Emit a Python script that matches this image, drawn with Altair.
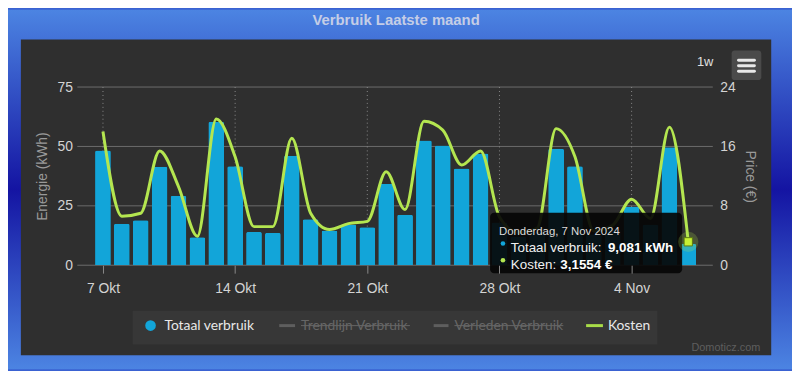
import json
import altair as alt
import pandas as pd

# ---------------- data ----------------
dates = [
    "2024-10-07", "2024-10-08", "2024-10-09", "2024-10-10", "2024-10-11", "2024-10-12",
    "2024-10-13", "2024-10-14", "2024-10-15", "2024-10-16", "2024-10-17", "2024-10-18",
    "2024-10-19", "2024-10-20", "2024-10-21", "2024-10-22", "2024-10-23", "2024-10-24",
    "2024-10-25", "2024-10-26", "2024-10-27", "2024-10-28", "2024-10-29", "2024-10-30",
    "2024-10-31", "2024-11-01", "2024-11-02", "2024-11-03", "2024-11-04", "2024-11-05",
    "2024-11-06", "2024-11-07",
]
verbruik = [
    48.3, 17.5, 18.9, 41.4, 29.2, 11.8, 60.4, 41.7, 14.0, 13.6, 46.1, 19.4,
    14.6, 17.1, 16.0, 34.2, 21.2, 52.5, 50.4, 40.7, 47.0, 18.0, 12.0, 14.0,
    49.0, 41.7, 13.0, 15.0, 24.6, 17.0, 49.7, 9.081,
]
kosten = [
    18.0, 6.6, 7.0, 15.4, 10.6, 3.9, 19.7, 14.6, 5.2, 5.2, 17.1, 7.0,
    4.8, 5.6, 5.9, 12.6, 7.5, 19.4, 18.2, 13.5, 15.4, 6.5, 4.4, 5.0,
    18.4, 14.6, 4.6, 5.4, 8.9, 6.3, 18.6, 3.1554,
]
tick_days = [0, 7, 14, 21, 28]
tick_labels = ["7 Okt", "14 Okt", "21 Okt", "28 Okt", "4 Nov"]
kwh_ticks = [0, 25, 50, 75]
price_ticks = [0, 8, 16, 24]
legend_labels = ["Totaal verbruik", "Trendlijn Verbruik", "Verleden Verbruik", "Kosten"]
title_text = "Verbruik Laatste maand"
tooltip_date = "Donderdag, 7 Nov 2024"
range_label = "1w"
credit = "Domoticz.com"

d = pd.to_datetime(dates)
df = pd.DataFrame({"day": (d - d[0]).days, "kwh": verbruik, "eur": kosten})
last = df.iloc[[-1]]

W, H = 642, 180
x_dom = [-1.36, float(df["day"].max()) + 1.3]

FONT = "Liberation Sans"
BAR = "#12a5d9"
LINE = "#b4e650"

label_expr = "%s[indexof(%s, datum.value)]" % (json.dumps(tick_labels), json.dumps(tick_days))
x_axis = alt.Axis(values=tick_days, labelExpr=label_expr, title=None, grid=False, domain=False,
                  ticks=True, tickSize=8, tickColor="#8a8a8a", tickWidth=1, labelPadding=9,
                  labelColor="#d4d4d4", labelFontSize=14, labelFont=FONT, zindex=1,
                  labelFlush=False)


def X():
    return alt.X("day:Q", scale=alt.Scale(domain=x_dom, nice=False, zero=False, padding=0),
                 axis=x_axis)


def yscale(top):
    return alt.Scale(domain=[0, top], nice=False, zero=True, padding=0)


one = pd.DataFrame({"k": [0]})


def rect(x, x2, y, y2, **kw):
    return alt.Chart(one).mark_rect(**kw).encode(
        x=alt.value(x), x2=alt.value(x2), y=alt.value(y), y2=alt.value(y2))


def txt(s, x, y, **kw):
    kw.setdefault("font", FONT)
    return alt.Chart(one).mark_text(text=s, **kw).encode(x=alt.value(x), y=alt.value(y))


def hline(x, x2, y, **kw):
    return alt.Chart(one).mark_rule(**kw).encode(
        x=alt.value(x), x2=alt.value(x2), y=alt.value(y))


# ------------- background & frame -------------
bg = rect(-70, 722, -78, 285, fill={
    "gradient": "linear", "x1": 0, "x2": 0, "y1": 0, "y2": 1,
    "stops": [{"offset": 0, "color": "#4c84e2"},
              {"offset": 0.5, "color": "#1414a2"},
              {"offset": 1, "color": "#4c84e2"}]})
panel = rect(-57, 701, -48, 271, fill="#2f2f2f")
title = txt(title_text, 322, -68, fontSize=15, fontWeight="bold", color="#c4cde6",
            align="center", baseline="middle")
rng = txt(range_label, 626, -25, fontSize=13, color="#e0e0e0", align="left", baseline="middle")
menu = rect(661, 691, -37, -7, fill="#4a4a4a", cornerRadius=3)
menu_lines = [hline(668, 684, yy, color="#e8e8e8", strokeWidth=3, strokeCap="round")
              for yy in (-27, -21.5, -16)]
cred = txt(credit, 690, 264, fontSize=11, color="#5e5e5e", align="right", baseline="middle")

# ------------- grid -------------
hgrid = alt.Chart(pd.DataFrame({"v": kwh_ticks})).mark_rule(color="#6c6c6c", strokeWidth=1).encode(
    y=alt.Y("v:Q", scale=yscale(75), axis=None))
vgrid = alt.Chart(pd.DataFrame({"day": tick_days})).mark_rule(
    color="#8a8a8a", strokeWidth=1, strokeDash=[1, 3]).encode(x=X())

# ------------- data marks -------------
bars = alt.Chart(df).mark_bar(size=16, color=BAR, cornerRadiusTopLeft=2,
                              cornerRadiusTopRight=2).encode(
    x=X(),
    y=alt.Y("kwh:Q", scale=yscale(75),
            axis=alt.Axis(orient="left", values=kwh_ticks, grid=False, domain=False, ticks=False,
                          tickSize=0, labelPadding=5, labelColor="#d4d4d4", labelFontSize=14,
                          labelFont=FONT, title="Energie (kWh)", titleColor="#9a9a9a",
                          titleFont=FONT, titleFontSize=14, titleFontWeight="normal",
                          titleX=-35, titleY=90, titleBaseline="middle", zindex=1)))
line = alt.Chart(df).mark_line(interpolate="monotone", color=LINE, strokeWidth=3).encode(
    x=X(),
    y=alt.Y("eur:Q", scale=yscale(24),
            axis=alt.Axis(orient="right", values=price_ticks, grid=False, domain=False,
                          ticks=False, tickSize=0, labelPadding=7, labelColor="#d4d4d4",
                          labelFontSize=14, labelFont=FONT, title="Price (€)",
                          titleColor="#9a9a9a", titleFont=FONT, titleFontSize=14,
                          titleFontWeight="normal", titleX=37, titleY=90,
                          titleBaseline="middle", titleAngle=90, zindex=1)))
eur_y = alt.Y("eur:Q", scale=yscale(24), axis=None)
halo = alt.Chart(last).mark_point(shape="circle", filled=True, size=420, color=LINE,
                                  opacity=0.22).encode(x=X(), y=eur_y)
marker = alt.Chart(last).mark_point(shape="square", filled=True, size=70, color="#c6f034",
                                    stroke="#5c7a10", strokeWidth=1, opacity=1).encode(
    x=X(), y=eur_y)

# ------------- tooltip -------------
kwh_txt = ("%.3f kWh" % last["kwh"].iloc[0]).replace(".", ",")
eur_txt = ("%.4f €" % last["eur"].iloc[0]).replace(".", ",")
tip_box = rect(417, 611, 127, 188, fill="#060606", opacity=0.92, cornerRadius=4)
tip = [
    txt(tooltip_date, 426, 146, fontSize=11.5, color="#dcdcdc", align="left"),
    alt.Chart(one).mark_point(shape="circle", filled=True, size=22, color=BAR, opacity=1).encode(
        x=alt.value(430), y=alt.value(158)),
    txt("Totaal verbruik:", 438, 163, fontSize=13.5, color="#f0f0f0", align="left"),
    txt(kwh_txt, 536, 163, fontSize=13.5, fontWeight="bold", color="#ffffff", align="left"),
    alt.Chart(one).mark_point(shape="circle", filled=True, size=22, color=LINE, opacity=1).encode(
        x=alt.value(430), y=alt.value(175)),
    txt("Kosten:", 438, 180, fontSize=13.5, color="#f0f0f0", align="left"),
    txt(eur_txt, 488, 180, fontSize=13.5, fontWeight="bold", color="#ffffff", align="left"),
]

# ------------- legend -------------
LF = "Lato"
leg_box = rect(56, 586, 226, 260, fill="#373737")
LY = 241
legend = [
    alt.Chart(one).mark_point(shape="circle", filled=True, size=115, color=BAR, opacity=1).encode(
        x=alt.value(74), y=alt.value(LY)),
    txt(legend_labels[0], 88, LY, font=LF, fontSize=14, color="#e8e8e8", align="left",
        baseline="middle"),
    hline(204, 220, LY, color="#5e5e5e", strokeWidth=3),
    txt(legend_labels[1], 226, LY, font=LF, fontSize=14, color="#666666", align="left",
        baseline="middle"),
    hline(226, 336, LY, color="#666666", strokeWidth=1),
    hline(360, 375, LY, color="#5e5e5e", strokeWidth=3),
    txt(legend_labels[2], 381, LY, font=LF, fontSize=14, color="#666666", align="left",
        baseline="middle"),
    hline(381, 491, LY, color="#666666", strokeWidth=1),
    hline(514, 531, LY, color="#a8dc48", strokeWidth=3),
    txt(legend_labels[3], 536, LY, font=LF, fontSize=14, color="#e8e8e8", align="left",
        baseline="middle"),
]

chart = alt.layer(
    bg, panel, title, rng, menu, *menu_lines, cred, leg_box, *legend,
    hgrid, vgrid, bars, line, tip_box, *tip, halo, marker,
).resolve_scale(y="independent").properties(
    width=W, height=H,
    padding={"left": 70, "top": 78, "right": 80, "bottom": 105},
    autosize=alt.AutoSizeParams(type="none"),
    background="#3a62d2",
).configure_view(strokeWidth=0)

chart.save("out.html", embed_options={"renderer": "svg", "actions": False})
